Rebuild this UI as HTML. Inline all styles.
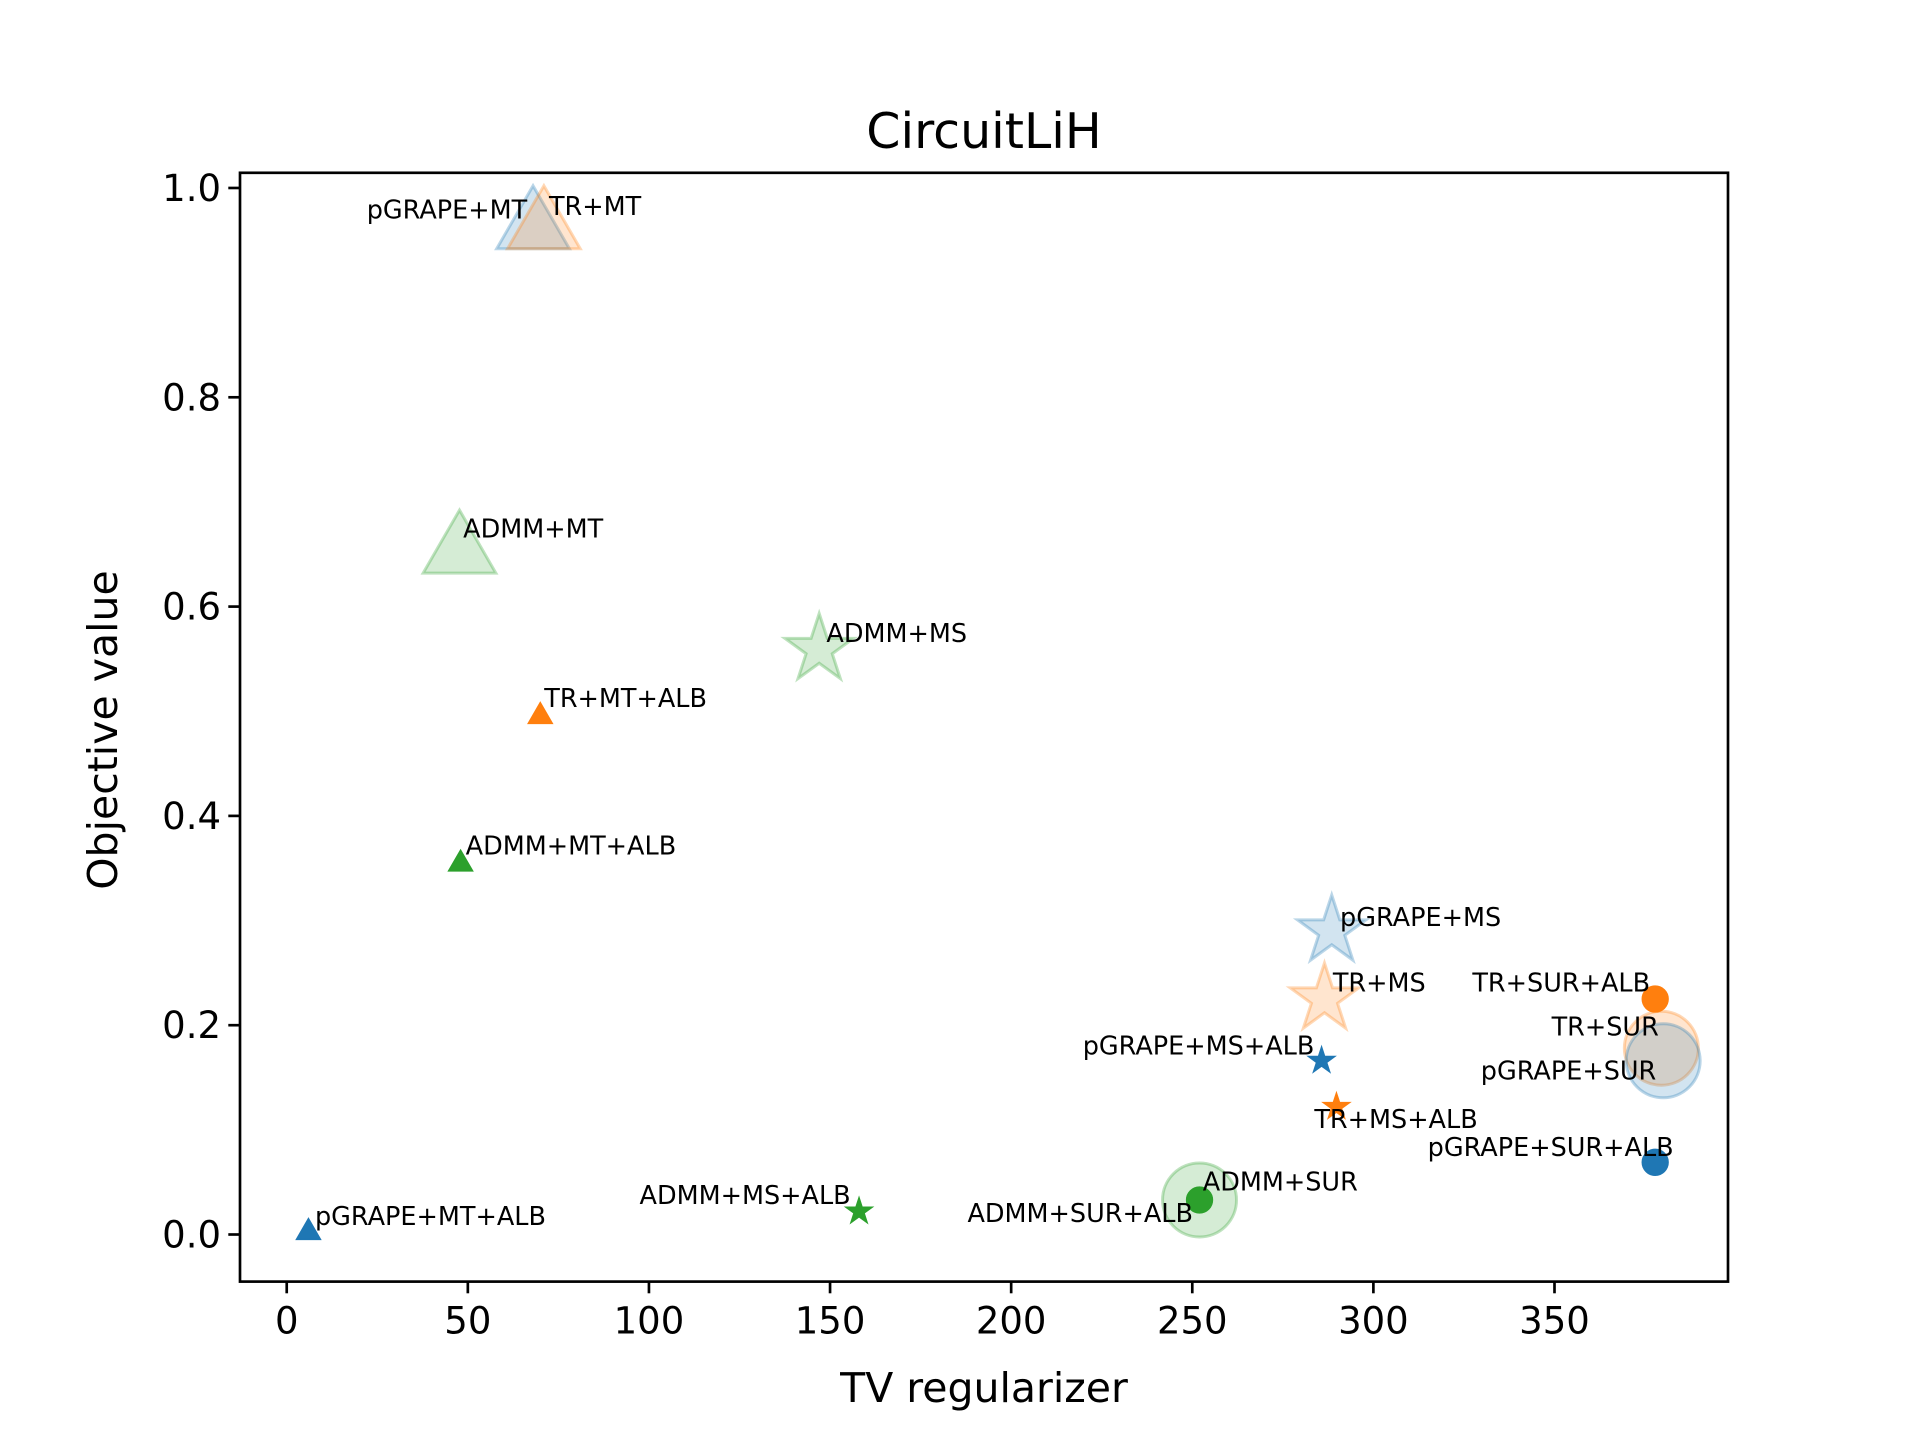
<!DOCTYPE html>
<html><head><meta charset="utf-8"><style>
html,body{margin:0;padding:0;background:#fff}
svg{display:block;font-family:"DejaVu Sans","Liberation Sans",sans-serif}
</style></head><body>
<svg id="chart" width="1920" height="1440" viewBox="0 0 1920 1440" xmlns="http://www.w3.org/2000/svg">
<rect width="1920" height="1440" fill="#fff"/>
<text x="984" y="148" font-size="49" text-anchor="middle">CircuitLiH</text>
<text x="984" y="1402" font-size="41" text-anchor="middle">TV regularizer</text>
<text transform="translate(117,730) rotate(-90)" font-size="41" text-anchor="middle">Objective value</text>
<g id="marks"></g>
<g id="labels"></g>
<g id="axes"></g>
</svg>
<script>
const names = ["pGRAPE+MT","TR+MT","ADMM+MT","ADMM+MS","TR+MT+ALB","ADMM+MT+ALB","pGRAPE+MT+ALB","ADMM+MS+ALB","ADMM+SUR","ADMM+SUR+ALB","pGRAPE+MS","TR+MS","pGRAPE+MS+ALB","TR+MS+ALB","TR+SUR+ALB","TR+SUR","pGRAPE+SUR","pGRAPE+SUR+ALB"];
const xVals = [68,71,47.7,147,70,48,6,158,252,252,288.5,286.5,285.7,289.8,377.8,379.5,380,377.8];
const yVals = [0.962,0.962,0.652,0.559,0.495,0.354,0.002,0.022,0.033,0.033,0.29,0.225,0.166,0.122,0.225,0.178,0.166,0.069];
const methods = ["pGRAPE","TR","ADMM","ADMM","TR","ADMM","pGRAPE","ADMM","ADMM","ADMM","pGRAPE","TR","pGRAPE","TR","TR","TR","pGRAPE","pGRAPE"];
const shapes = ["tri","tri","tri","star","tri","tri","tri","star","circle","circle","star","star","star","star","circle","circle","circle","circle"];
const isAlb = [0,0,0,0,1,1,1,1,0,1,0,0,1,1,1,0,0,1];
const labelX = [66.4,72.4,48.7,149,71.1,49.4,7.8,155.7,252.9,250.2,290.8,288.8,283.7,283.7,376.4,378.8,378.1,382.9];
const labelY = [0.971,0.974,0.666,0.566,0.504,0.363,0.009,0.029,0.042,0.012,0.295,0.232,0.172,0.102,0.232,0.19,0.148,0.075];
const labelAnchor = ["end","start","start","start","start","start","start","end","start","end","start","start","end","start","end","end","end","end"];
const xTicks = [0,50,100,150,200,250,300,350];
const yTicks = [0,0.2,0.4,0.6,0.8,1.0];
const yTickLabels = ["0.0","0.2","0.4","0.6","0.8","1.0"];

const L=240,R=1728,T=172.8,B=1281.6;
const xMin=-12.9,xMax=397.9,yMin=-0.045,yMax=1.0145;
const sx=v=>L+(v-xMin)/(xMax-xMin)*(R-L);
const sy=v=>B-(v-yMin)/(yMax-yMin)*(B-T);
const colors={pGRAPE:"#1f77b4",TR:"#ff7f0e",ADMM:"#2ca02c"};
const NS="http://www.w3.org/2000/svg";
const mk=(t,a)=>{const e=document.createElementNS(NS,t);for(const k in a)e.setAttribute(k,a[k]);return e;};
function shapePath(s,cx,cy,r){
  if(s==="tri"){return `M${cx},${cy-r} L${cx+r*0.866},${cy+r*0.5} L${cx-r*0.866},${cy+r*0.5}Z`;}
  if(s==="star"){let d="";for(let i=0;i<10;i++){const rr=i%2?r*0.382:r;const a=-Math.PI/2+i*Math.PI/5;d+=(i?"L":"M")+(cx+rr*Math.cos(a))+","+(cy+rr*Math.sin(a));}return d+"Z";}
  return `M${cx-r},${cy} A${r},${r} 0 1 0 ${cx+r},${cy} A${r},${r} 0 1 0 ${cx-r},${cy}Z`;
}
const marks=document.getElementById('marks'), labels=document.getElementById('labels'), axes=document.getElementById('axes');
[0,1].forEach(pass=>{
 for(let i=0;i<names.length;i++){
  if(isAlb[i]!==pass)continue;
  const c=colors[methods[i]];
  const big=!isAlb[i];
  let r;
  if(shapes[i]==="tri") r=big?42:14;
  else if(shapes[i]==="star") r=big?36:14;
  else r=big?37:13;
  const p=mk("path",{d:shapePath(shapes[i],sx(xVals[i]),sy(yVals[i]),r),fill:c,"fill-opacity":big?0.2:1,stroke:c,"stroke-opacity":big?0.3:1,"stroke-width":big?3:1.3});
  
  
  marks.appendChild(p);
 }
});
for(let i=0;i<names.length;i++){
  const t=mk("text",{x:sx(labelX[i]),y:sy(labelY[i]),"font-size":25.5,"text-anchor":labelAnchor[i]});
  t.textContent=names[i];
  
  
  labels.appendChild(t);
}
const frame=mk("rect",{x:L,y:T,width:R-L,height:B-T,fill:"none",stroke:"#000","stroke-width":2.67});


axes.appendChild(frame);
xTicks.forEach(v=>{
  const x=sx(v);
  const l=mk("line",{x1:x,x2:x,y1:B,y2:B+11.7,stroke:"#000","stroke-width":2.67});
  
  
  axes.appendChild(l);
  const t=mk("text",{x:x,y:B+52,"font-size":37,"text-anchor":"middle"});
  t.textContent=String(v);
  
  
  axes.appendChild(t);
});
yTicks.forEach((v,i)=>{
  const y=sy(v);
  const l=mk("line",{x1:L-11.7,x2:L,y1:y,y2:y,stroke:"#000","stroke-width":2.67});
  
  
  axes.appendChild(l);
  const t=mk("text",{x:L-19,y:y+13,"font-size":37,"text-anchor":"end"});
  t.textContent=yTickLabels[i];
  
  
  axes.appendChild(t);
});
</script>
</body></html>
